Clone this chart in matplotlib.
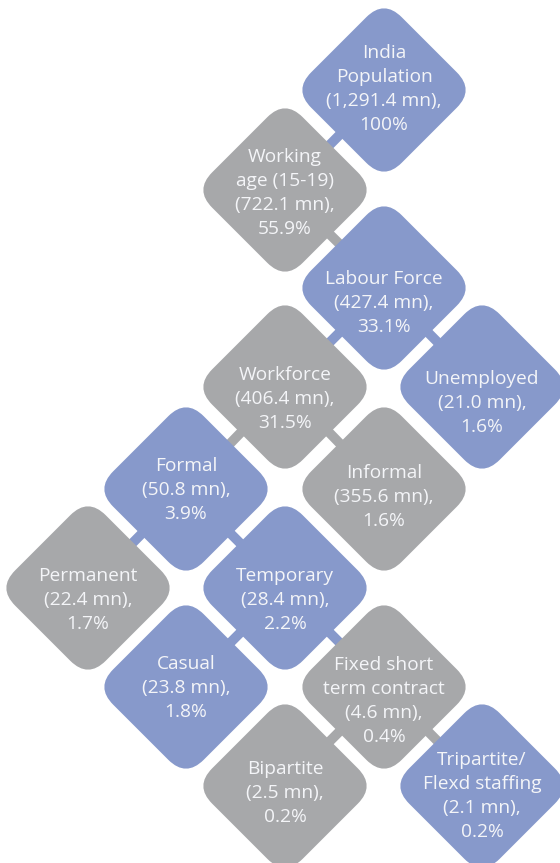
import matplotlib
matplotlib.use("Agg")
import matplotlib.pyplot as plt
from matplotlib.patches import FancyBboxPatch
from matplotlib.transforms import Affine2D

# ---- data ----
names = ["India\nPopulation", "Working\nage (15-19)", "Labour Force", "Unemployed",
         "Workforce", "Informal", "Formal", "Permanent", "Temporary", "Casual",
         "Fixed short\nterm contract", "Bipartite", "Tripartite/\nFlexd staffing"]
values_mn = [1291.4, 722.1, 427.4, 21.0, 406.4, 355.6, 50.8, 22.4, 28.4, 23.8, 4.6, 2.5, 2.1]
shares_pct = [100, 55.9, 33.1, 1.6, 31.5, 1.6, 3.9, 1.7, 2.2, 1.8, 0.4, 0.2, 0.2]
kinds = ["blue", "gray", "blue", "blue", "gray", "gray", "blue", "gray", "blue",
         "blue", "gray", "gray", "blue"]
parents = [None, 0, 1, 2, 2, 4, 4, 6, 6, 8, 8, 10, 10]

# ---- layout (pixels) ----
cols = [88, 186, 285, 384, 482]
rows = [90, 190, 288, 387, 489, 588, 687, 786]
node_col = [3, 2, 3, 4, 2, 3, 1, 0, 2, 1, 3, 2, 4]
node_row = [0, 1, 2, 3, 3, 4, 4, 5, 5, 6, 6, 7, 7]
text_dy = [-1, 3, 15, 16, 12, 8, 1, 12, 12, 1, 14, 7, 10]

palette = {"blue": "#8799CB", "gray": "#A7A8AA"}
side = 128
radius = 25

fig = plt.figure(figsize=(5.6, 8.63), dpi=100)
ax = fig.add_axes([0, 0, 1, 1])
ax.set_xlim(0, 560)
ax.set_ylim(863, 0)
ax.axis("off")

cx = [cols[c] for c in node_col]
cy = [rows[r] for r in node_row]

# bridges
for i, p in enumerate(parents):
    if p is None:
        continue
    ax.plot([cx[p], cx[i]], [cy[p], cy[i]], color=palette[kinds[p]],
            lw=7.0, solid_capstyle="butt", zorder=1)

# diamonds
for i in range(len(names)):
    patch = FancyBboxPatch((-side / 2, -side / 2), side, side,
                           boxstyle=f"round,pad=0,rounding_size={radius}",
                           facecolor=palette[kinds[i]], edgecolor="none",
                           transform=Affine2D().rotate_deg(45).translate(cx[i], cy[i]) + ax.transData,
                           zorder=2)
    ax.add_patch(patch)
    label = f"{names[i]}\n({values_mn[i]:,.1f} mn),\n{shares_pct[i]:g}%"
    ax.text(cx[i], cy[i] + text_dy[i], label, ha="center", va="center",
            color="#F4F5F8", fontsize=13.8, family=["Open Sans", "DejaVu Sans"],
            linespacing=1.43, zorder=3)

fig.savefig("out.png", dpi=100)
